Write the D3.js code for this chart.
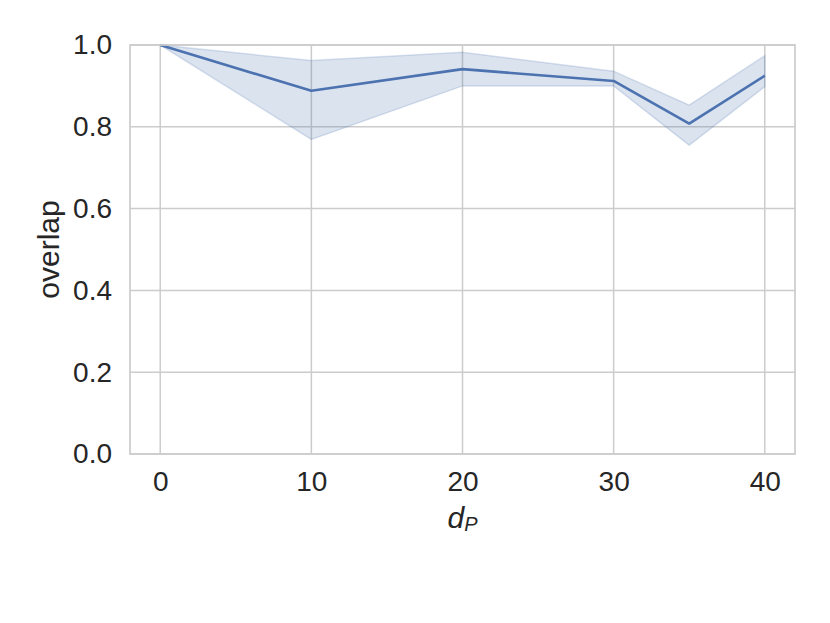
<!DOCTYPE html>
<html>
<head>
<meta charset="utf-8">
<script src="https://cdn.jsdelivr.net/npm/d3@7.9.0/dist/d3.min.js"></script>
<style>
  body { margin: 0; background: #fff; }
  text { font-family: "Liberation Sans", Arial, sans-serif; fill: #262626; }
</style>
</head>
<body>
<div id="chart"></div>
<script>
const dP = [0, 10, 20, 30, 35, 40];
const overlapMean = [1.0, 0.888, 0.941, 0.912, 0.808, 0.925];
const overlapLow = [1.0, 0.769, 0.900, 0.900, 0.755, 0.898];
const overlapHigh = [1.0, 0.962, 0.982, 0.936, 0.853, 0.974];
const xTicks = [0, 10, 20, 30, 40];
const yTicks = [0, 0.2, 0.4, 0.6, 0.8, 1.0];

const width = 830, height = 623;
const margin = { left: 130, right: 35, top: 45, bottom: 169 };

const svg = d3.select('#chart').append('svg')
  .attr('width', width)
  .attr('height', height);

const xScale = d3.scaleLinear()
  .domain([-2, 42])
  .range([margin.left, width - margin.right]);
const yScale = d3.scaleLinear()
  .domain([0, 1])
  .range([height - margin.bottom, margin.top]);

const rows = dP.map((x, i) => ({ x, m: overlapMean[i], lo: overlapLow[i], hi: overlapHigh[i] }));

// grid
const grid = svg.append('g');
grid.selectAll('.gx').data(xTicks).join('line')
  .attr('x1', d => xScale(d)).attr('x2', d => xScale(d))
  .attr('y1', yScale(0)).attr('y2', yScale(1))
  .attr('stroke', '#cccccc').attr('stroke-width', 1.5);
grid.selectAll('.gy').data(yTicks).join('line')
  .attr('x1', xScale.range()[0]).attr('x2', xScale.range()[1])
  .attr('y1', d => yScale(d)).attr('y2', d => yScale(d))
  .attr('stroke', '#cccccc').attr('stroke-width', 1.5);

// band
svg.append('path')
  .datum(rows)
  .attr('d', d3.area().x(d => xScale(d.x)).y0(d => yScale(d.lo)).y1(d => yScale(d.hi)))
  .attr('fill', '#4c72b0').attr('fill-opacity', 0.2)
  .attr('stroke', '#4c72b0').attr('stroke-opacity', 0.2).attr('stroke-width', 1.5);

// mean line
svg.append('path')
  .datum(rows)
  .attr('d', d3.line().x(d => xScale(d.x)).y(d => yScale(d.m)))
  .attr('fill', 'none')
  .attr('stroke', '#4c72b0').attr('stroke-width', 2.6)
  .attr('stroke-linejoin', 'round');

// frame
svg.append('rect')
  .attr('x', xScale.range()[0]).attr('y', yScale(1))
  .attr('width', xScale.range()[1] - xScale.range()[0])
  .attr('height', yScale(0) - yScale(1))
  .attr('fill', 'none').attr('stroke', '#cccccc').attr('stroke-width', 1.7);

// axes
const xAxis = d3.axisBottom(xScale).tickValues(xTicks).tickSize(0).tickPadding(17).tickFormat(d3.format('d'));
const yAxis = d3.axisLeft(yScale).tickValues(yTicks).tickSize(0).tickPadding(18).tickFormat(d3.format('.1f'));

const gx = svg.append('g').attr('transform', `translate(0,${yScale(0)})`).call(xAxis);
const gy = svg.append('g').attr('transform', `translate(${xScale.range()[0]},0)`).call(yAxis);
[gx, gy].forEach(g => {
  g.select('.domain').remove();
  g.selectAll('text').style('font-size', '28px').attr('fill', '#262626');
});

// labels
const xl = svg.append('text')
  .attr('x', (xScale.range()[0] + xScale.range()[1]) / 2)
  .attr('y', 528)
  .attr('text-anchor', 'middle')
  .style('font-size', '30px')
  .style('font-style', 'italic');
xl.append('tspan').text('d');
xl.append('tspan').text('P').attr('dy', 3).style('font-size', '20px');

svg.append('text')
  .attr('transform', `translate(59,${(yScale(0) + yScale(1)) / 2}) rotate(-90)`)
  .attr('text-anchor', 'middle')
  .style('font-size', '30px')
  .text('overlap');
</script>
</body>
</html>
